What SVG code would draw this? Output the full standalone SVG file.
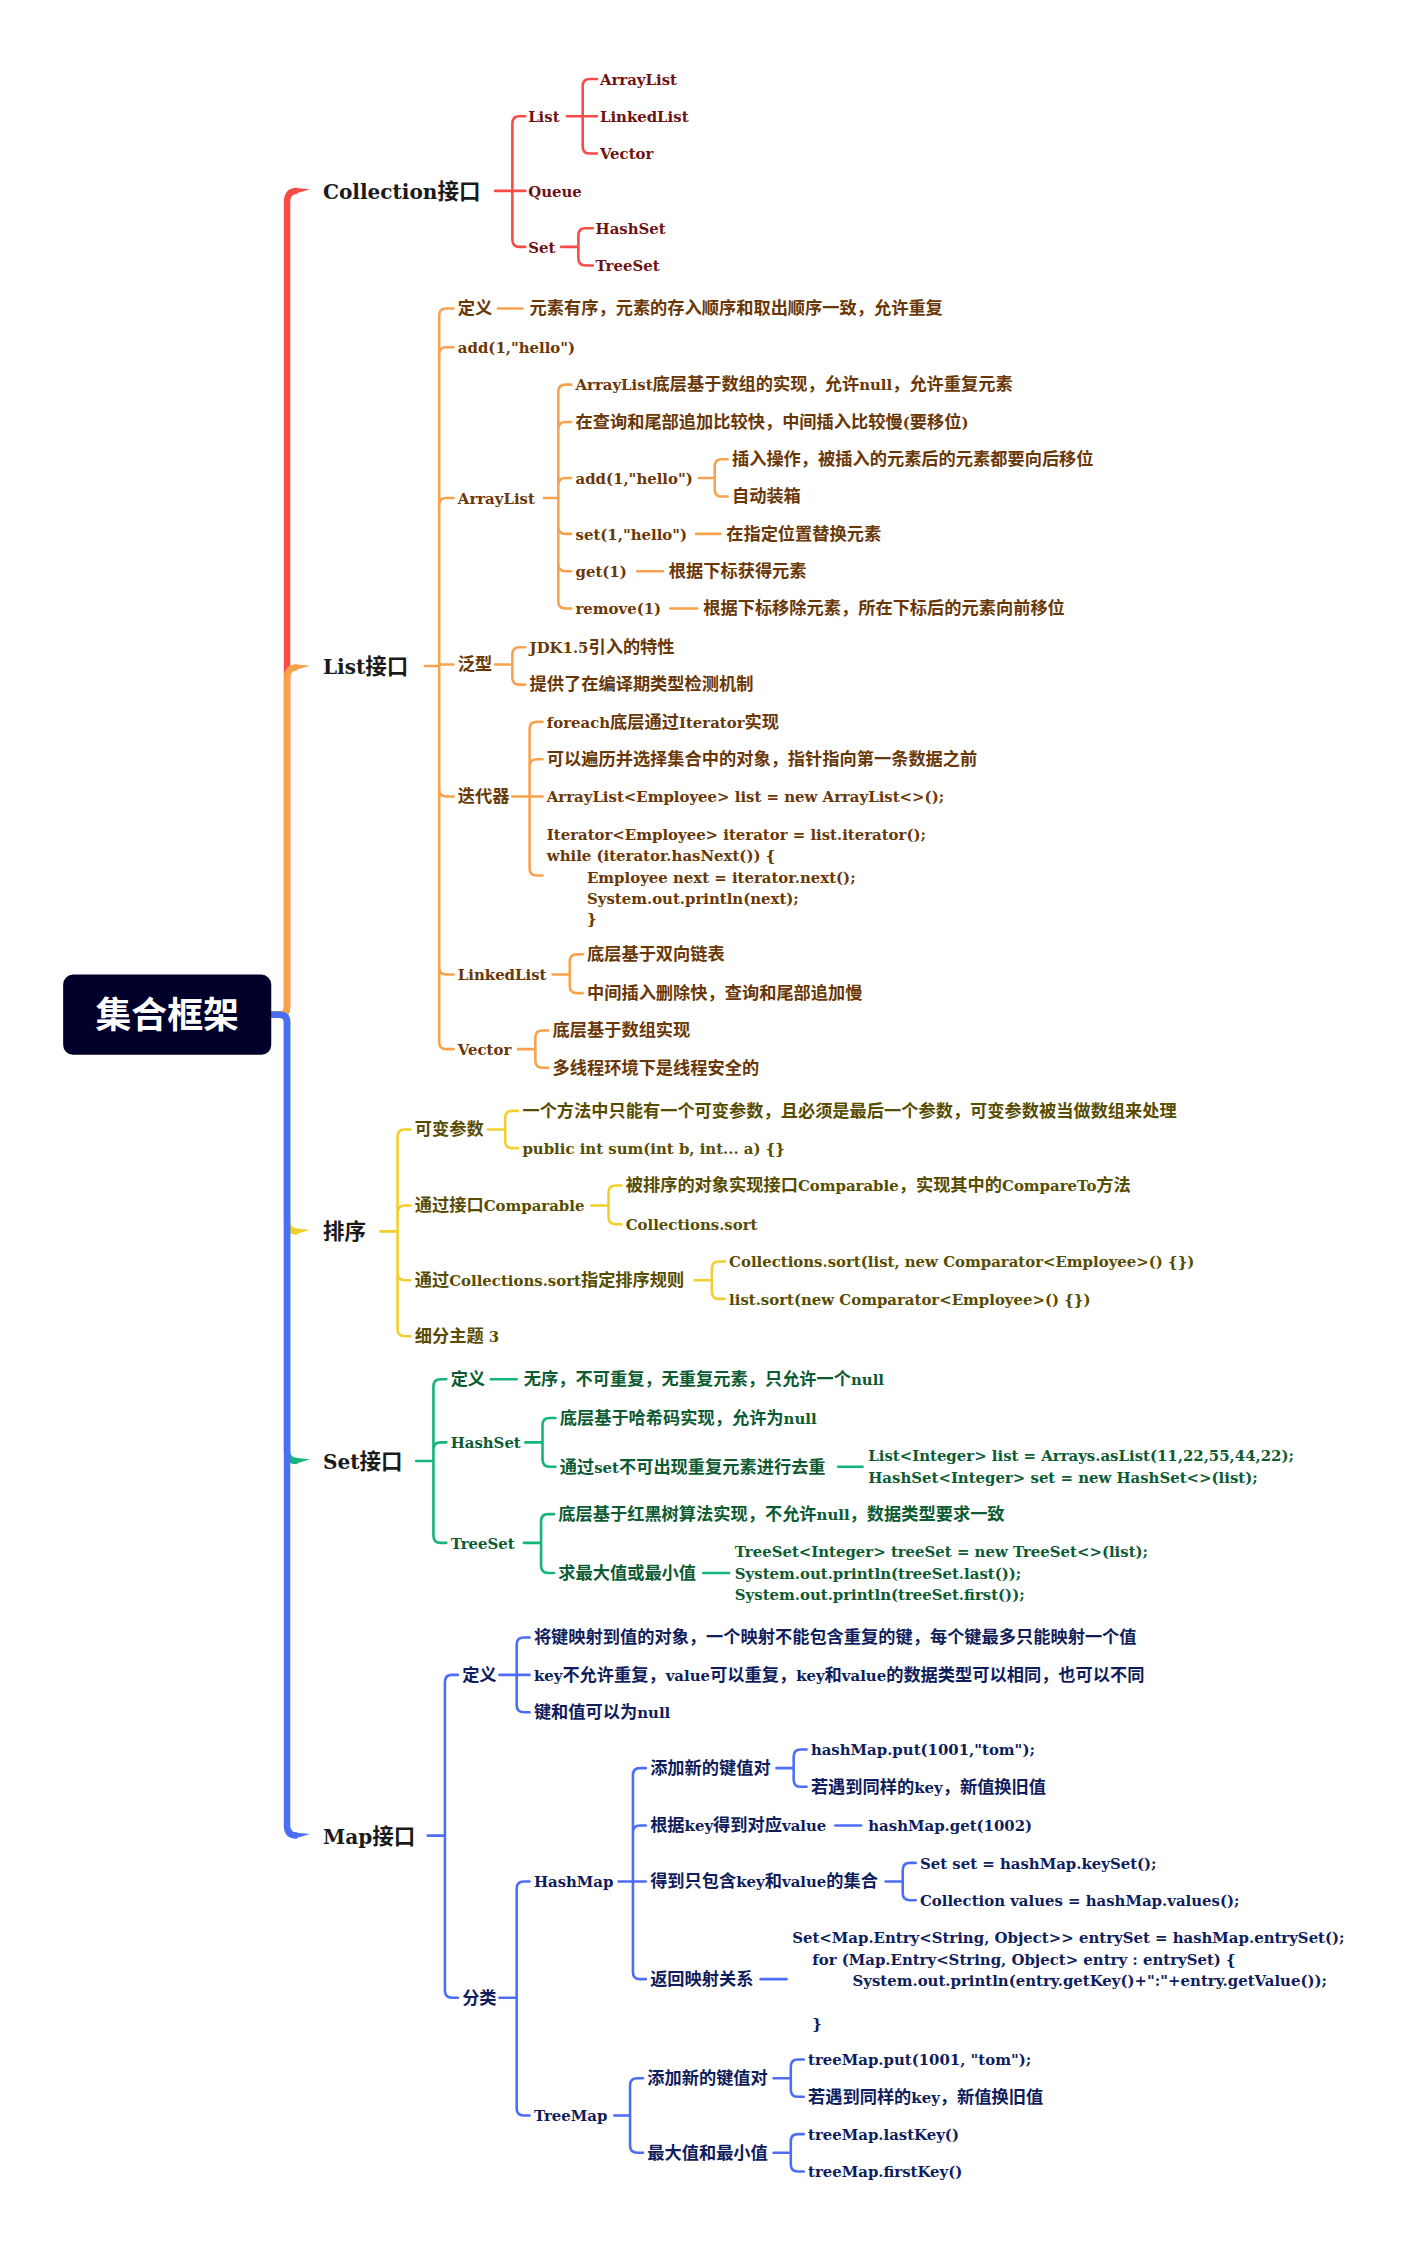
<svg xmlns="http://www.w3.org/2000/svg" width="1422" height="2251" viewBox="0 0 1422 2251">
<style>
text { font-family: "DejaVu Serif", "Noto Sans CJK SC", serif; font-weight: bold; font-size: 10.4px; }
.k { font-family: "Noto Sans CJK SC", sans-serif; font-size: 12px; }
.h { font-size: 14px; fill: #1a1a1a; }
.h .k { font-size: 15px; }
.cr { fill: #6e1212; } .co { fill: #6a3707; } .cy { fill: #574c00; } .cg { fill: #0c5b32; } .cb { fill: #0f1d5c; }
.s { fill: none; stroke-width: 1.8; stroke-linecap: round; stroke-linejoin: round; }
.m { fill: none; stroke-width: 4.5; stroke-linejoin: round; }
.lr { stroke: #f64b47; } .lo { stroke: #f8a24e; } .ly { stroke: #f2cf2c; } .lg { stroke: #14b57a; } .lb { stroke: #4c6ef6; }
.fr { fill: #f64b47; } .fo { fill: #f8a24e; } .fy { fill: #f2cf2c; } .fg { fill: #14b57a; } .fb { fill: #4c6ef6; }
</style>
<rect width="1422" height="2251" fill="#ffffff"/>
<g transform="scale(1.4352)">
<g id="connectors">
 <g id="conn-collection">
  <path class="m lr" d="M189 707 H195 Q200 707 200 702 V141 Q200 133 207 133"/>
  <polygon class="fr" points="205,130.75 216,131.8 205,135.25"/>
  <path class="s lr" d="M345 133 H357 M357 133 V86 Q357 81 362 81 H366 M357 133 H366 M357 133 V167 Q357 172 362 172 H366"/>
  <path class="s lr" d="M395 81 H406 M406 81 V60 Q406 55 411 55 H416 M406 81 H416 M406 81 V102 Q406 107 411 107 H416"/>
  <path class="s lr" d="M391 172 H403 M403 172 V164 Q403 159 408 159 H413 M403 172 V180 Q403 185 408 185 H413"/>
 </g>
 <g id="conn-list">
  <path class="m lo" d="M189 707 H195 Q200 707 200 702 V473 Q200 465 207 465"/>
  <polygon class="fo" points="205,462.75 216,463.8 205,467.25"/>
  <path class="s lo" d="M296 464 H306 M306 464 V220 Q306 215 311 215 H316 M306 464 V247 Q306 242 311 242 H316 M306 464 V352 Q306 347 311 347 H316 M306 463 H316 M306 464 V550 Q306 555 311 555 H316 M306 464 V674 Q306 679 311 679 H316 M306 464 V726 Q306 731 311 731 H316"/>
  <path class="s lo" d="M347 215 H364"/>
  <path class="s lo" d="M379 347 H389 M389 347 V273 Q389 268 394 268 H398 M389 347 V299 Q389 294 394 294 H398 M389 347 V338 Q389 333 394 333 H398 M389 347 V367 Q389 372 394 372 H398 M389 347 V393 Q389 398 394 398 H398 M389 347 V419 Q389 424 394 424 H398"/>
  <path class="s lo" d="M487 333 H498 M498 333 V325 Q498 320 503 320 H507 M498 333 V341 Q498 346 503 346 H507"/>
  <path class="s lo" d="M485 372 H502 M444 398 H462 M467 424 H486"/>
  <path class="s lo" d="M345 463 H357 M357 463 V456 Q357 451 362 451 H366 M357 463 V472 Q357 477 362 477 H366"/>
  <path class="s lo" d="M357 555 H369 M369 555 V508 Q369 503 374 503 H378 M369 555 V534 Q369 529 374 529 H378 M369 555 H378 M369 555 V605 Q369 610 374 610 H378"/>
  <path class="s lo" d="M385 679 H397 M397 679 V670 Q397 665 402 665 H406 M397 679 V687 Q397 692 402 692 H406"/>
  <path class="s lo" d="M361 731 H373 M373 731 V723 Q373 718 378 718 H382 M373 731 V739 Q373 744 378 744 H382"/>
 </g>
 <g id="conn-sort">
  <path class="m ly" d="M189 707 H195 Q200 707 200 712 V851 Q200 858 207 858"/>
  <polygon class="fy" points="205,855.75 216,856.8 205,860.25"/>
  <path class="s ly" d="M265 858 H277 M277 858 V792 Q277 787 282 787 H286 M277 858 V845 Q277 840 282 840 H286 M277 858 V887 Q277 892 282 892 H286 M277 858 V926 Q277 931 282 931 H286"/>
  <path class="s ly" d="M340 787 H352 M352 787 V779 Q352 774 357 774 H361 M352 787 V795 Q352 800 357 800 H361"/>
  <path class="s ly" d="M412 840 H424 M424 840 V831 Q424 826 429 826 H433 M424 840 V848 Q424 853 429 853 H433"/>
  <path class="s ly" d="M484 892 H496 M496 892 V884 Q496 879 501 879 H505 M496 892 V900 Q496 905 501 905 H505"/>
 </g>
 <g id="conn-set">
  <path class="m lg" d="M189 707 H195 Q200 707 200 712 V1011 Q200 1018 207 1018"/>
  <polygon class="fg" points="205,1015.75 216,1016.8 205,1020.25"/>
  <path class="s lg" d="M290 1018 H302 M302 1018 V966 Q302 961 307 961 H311 M302 1018 V1010 Q302 1005 307 1005 H311 M302 1018 V1070 Q302 1075 307 1075 H311"/>
  <path class="s lg" d="M342 961 H360"/>
  <path class="s lg" d="M366 1005 H378 M378 1005 V993 Q378 988 383 988 H387 M378 1005 V1017 Q378 1022 383 1022 H387"/>
  <path class="s lg" d="M584 1022 H601"/>
  <path class="s lg" d="M365 1075 H377 M377 1075 V1060 Q377 1055 382 1055 H386 M377 1075 V1091 Q377 1096 382 1096 H386"/>
  <path class="s lg" d="M490 1096 H508"/>
 </g>
 <g id="conn-map">
  <path class="m lb" d="M189 707 H195 Q200 707 200 712 V1272 Q200 1279 207 1279"/>
  <polygon class="fb" points="205,1276.75 216,1277.8 205,1281.25"/>
  <path class="s lb" d="M298 1279 H310 M310 1279 V1172 Q310 1167 315 1167 H319 M310 1279 V1387 Q310 1392 315 1392 H319"/>
  <path class="s lb" d="M348 1167 H360 M360 1167 V1146 Q360 1141 365 1141 H369 M360 1167 H369 M360 1167 V1188 Q360 1193 365 1193 H369"/>
  <path class="s lb" d="M348 1392 H360 M360 1392 V1316 Q360 1311 365 1311 H369 M360 1392 V1469 Q360 1474 365 1474 H369"/>
  <path class="s lb" d="M431 1311 H441 M441 1311 V1237 Q441 1232 446 1232 H450 M441 1311 V1277 Q441 1272 446 1272 H450 M441 1311 H450 M441 1311 V1374 Q441 1379 446 1379 H450"/>
  <path class="s lb" d="M541 1232 H553 M553 1232 V1224 Q553 1219 558 1219 H562 M553 1232 V1240 Q553 1245 558 1245 H562"/>
  <path class="s lb" d="M582 1272 H600"/>
  <path class="s lb" d="M617 1311 H629 M629 1311 V1303 Q629 1298 634 1298 H638 M629 1311 V1319 Q629 1324 634 1324 H638"/>
  <path class="s lb" d="M530 1379 H548"/>
  <path class="s lb" d="M428 1474 H439 M439 1474 V1453 Q439 1448 444 1448 H448 M439 1474 V1495 Q439 1500 444 1500 H448"/>
  <path class="s lb" d="M539 1448 H551 M551 1448 V1440 Q551 1435 556 1435 H560 M551 1448 V1456 Q551 1461 556 1461 H560"/>
  <path class="s lb" d="M539 1500 H551 M551 1500 V1492 Q551 1487 556 1487 H560 M551 1500 V1508 Q551 1513 556 1513 H560"/>
 </g>
</g>

<g id="root">
 <rect x="44" y="679" width="145" height="56" rx="7" fill="#00002b"/>
 <text x="116.5" y="716" text-anchor="middle" fill="#ffffff" style="font-family:'Noto Sans CJK SC',sans-serif;font-size:25px;font-weight:bold">集合框架</text>
</g>

<g id="collection" class="cr">
 <g id="n-collection"><text class="h" x="225" y="138.5">Collection<tspan class="k">接口</tspan></text></g>
 <g id="n-c-list"><text x="368" y="85">List</text></g>
 <g id="n-c-queue"><text x="368" y="137">Queue</text></g>
 <g id="n-c-set"><text x="368" y="176">Set</text></g>
 <g id="n-c-arraylist"><text x="418" y="59">ArrayList</text></g>
 <g id="n-c-linkedlist"><text x="418" y="85">LinkedList</text></g>
 <g id="n-c-vector"><text x="418" y="111">Vector</text></g>
 <g id="n-c-hashset"><text x="415" y="163">HashSet</text></g>
 <g id="n-c-treeset"><text x="415" y="189">TreeSet</text></g>
</g>

<g id="list" class="co">
 <g id="n-list"><text class="h" x="225" y="469.5">List<tspan class="k">接口</tspan></text></g>
 <g id="n-l-def"><text x="319" y="219"><tspan class="k">定义</tspan></text></g>
 <g id="n-l-def-1"><text x="369" y="219"><tspan class="k">元素有序，元素的存入顺序和取出顺序一致，允许重复</tspan></text></g>
 <g id="n-l-add"><text x="319" y="246">add(1,"hello")</text></g>
 <g id="n-l-arraylist"><text x="319" y="351">ArrayList</text></g>
 <g id="n-l-al-1"><text x="401" y="272">ArrayList<tspan class="k">底层基于数组的实现，允许</tspan>null<tspan class="k">，允许重复元素</tspan></text></g>
 <g id="n-l-al-2"><text x="401" y="298"><tspan class="k">在查询和尾部追加比较快，中间插入比较慢</tspan>(<tspan class="k">要移位</tspan>)</text></g>
 <g id="n-l-al-add"><text x="401" y="337">add(1,"hello")</text></g>
 <g id="n-l-al-add-1"><text x="510" y="324"><tspan class="k">插入操作，被插入的元素后的元素都要向后移位</tspan></text></g>
 <g id="n-l-al-add-2"><text x="510" y="350"><tspan class="k">自动装箱</tspan></text></g>
 <g id="n-l-al-set"><text x="401" y="376">set(1,"hello")</text></g>
 <g id="n-l-al-set-1"><text x="506" y="376"><tspan class="k">在指定位置替换元素</tspan></text></g>
 <g id="n-l-al-get"><text x="401" y="402">get(1)</text></g>
 <g id="n-l-al-get-1"><text x="466" y="402"><tspan class="k">根据下标获得元素</tspan></text></g>
 <g id="n-l-al-remove"><text x="401" y="428">remove(1)</text></g>
 <g id="n-l-al-remove-1"><text x="490" y="428"><tspan class="k">根据下标移除元素，所在下标后的元素向前移位</tspan></text></g>
 <g id="n-l-generic"><text x="319" y="467"><tspan class="k">泛型</tspan></text></g>
 <g id="n-l-generic-1"><text x="369" y="455">JDK1.5<tspan class="k">引入的特性</tspan></text></g>
 <g id="n-l-generic-2"><text x="369" y="481"><tspan class="k">提供了在编译期类型检测机制</tspan></text></g>
 <g id="n-l-iter"><text x="319" y="559"><tspan class="k">迭代器</tspan></text></g>
 <g id="n-l-iter-1"><text x="381" y="507">foreach<tspan class="k">底层通过</tspan>Iterator<tspan class="k">实现</tspan></text></g>
 <g id="n-l-iter-2"><text x="381" y="533"><tspan class="k">可以遍历并选择集合中的对象，指针指向第一条数据之前</tspan></text></g>
 <g id="n-l-iter-3"><text x="381" y="559">ArrayList&lt;Employee&gt; list = new ArrayList&lt;&gt;();</text></g>
 <g id="n-l-iter-4">
  <text x="381" y="585">Iterator&lt;Employee&gt; iterator = list.iterator();</text>
  <text x="381" y="600">while (iterator.hasNext()) {</text>
  <text x="409" y="615">Employee next = iterator.next();</text>
  <text x="409" y="630">System.out.println(next);</text>
  <text x="409" y="644">}</text>
 </g>
 <g id="n-l-linked"><text x="319" y="683">LinkedList</text></g>
 <g id="n-l-linked-1"><text x="409" y="669"><tspan class="k">底层基于双向链表</tspan></text></g>
 <g id="n-l-linked-2"><text x="409" y="696"><tspan class="k">中间插入删除快，查询和尾部追加慢</tspan></text></g>
 <g id="n-l-vector"><text x="319" y="735">Vector</text></g>
 <g id="n-l-vector-1"><text x="385" y="722"><tspan class="k">底层基于数组实现</tspan></text></g>
 <g id="n-l-vector-2"><text x="385" y="748"><tspan class="k">多线程环境下是线程安全的</tspan></text></g>
</g>

<g id="sort" class="cy">
 <g id="n-sort"><text class="h" x="225" y="863.5"><tspan class="k">排序</tspan></text></g>
 <g id="n-s-var"><text x="289" y="791"><tspan class="k">可变参数</tspan></text></g>
 <g id="n-s-var-1"><text x="364" y="778"><tspan class="k">一个方法中只能有一个可变参数，且必须是最后一个参数，可变参数被当做数组来处理</tspan></text></g>
 <g id="n-s-var-2"><text x="364" y="804">public int sum(int b, int... a) {}</text></g>
 <g id="n-s-comp"><text x="289" y="844"><tspan class="k">通过接口</tspan>Comparable</text></g>
 <g id="n-s-comp-1"><text x="436" y="830"><tspan class="k">被排序的对象实现接口</tspan>Comparable<tspan class="k">，实现其中的</tspan>CompareTo<tspan class="k">方法</tspan></text></g>
 <g id="n-s-comp-2"><text x="436" y="857">Collections.sort</text></g>
 <g id="n-s-rule"><text x="289" y="896"><tspan class="k">通过</tspan>Collections.sort<tspan class="k">指定排序规则</tspan></text></g>
 <g id="n-s-rule-1"><text x="508" y="883">Collections.sort(list, new Comparator&lt;Employee&gt;() {})</text></g>
 <g id="n-s-rule-2"><text x="508" y="909">list.sort(new Comparator&lt;Employee&gt;() {})</text></g>
 <g id="n-s-sub3"><text x="289" y="935"><tspan class="k">细分主题</tspan> 3</text></g>
</g>

<g id="set" class="cg">
 <g id="n-set"><text class="h" x="225" y="1023.5">Set<tspan class="k">接口</tspan></text></g>
 <g id="n-t-def"><text x="314" y="965"><tspan class="k">定义</tspan></text></g>
 <g id="n-t-def-1"><text x="365" y="965"><tspan class="k">无序，不可重复，无重复元素，只允许一个</tspan>null</text></g>
 <g id="n-t-hashset"><text x="314" y="1009">HashSet</text></g>
 <g id="n-t-hs-1"><text x="390" y="992"><tspan class="k">底层基于哈希码实现，允许为</tspan>null</text></g>
 <g id="n-t-hs-2"><text x="390" y="1026"><tspan class="k">通过</tspan>set<tspan class="k">不可出现重复元素进行去重</tspan></text></g>
 <g id="n-t-hs-code">
  <text x="605" y="1018">List&lt;Integer&gt; list = Arrays.asList(11,22,55,44,22);</text>
  <text x="605" y="1033">HashSet&lt;Integer&gt; set = new HashSet&lt;&gt;(list);</text>
 </g>
 <g id="n-t-treeset"><text x="314" y="1079">TreeSet</text></g>
 <g id="n-t-ts-1"><text x="389" y="1059"><tspan class="k">底层基于红黑树算法实现，不允许</tspan>null<tspan class="k">，数据类型要求一致</tspan></text></g>
 <g id="n-t-ts-2"><text x="389" y="1100"><tspan class="k">求最大值或最小值</tspan></text></g>
 <g id="n-t-ts-code">
  <text x="512" y="1085">TreeSet&lt;Integer&gt; treeSet = new TreeSet&lt;&gt;(list);</text>
  <text x="512" y="1100">System.out.println(treeSet.last());</text>
  <text x="512" y="1115">System.out.println(treeSet.first());</text>
 </g>
</g>

<g id="map" class="cb">
 <g id="n-map"><text class="h" x="225" y="1284.5">Map<tspan class="k">接口</tspan></text></g>
 <g id="n-m-def"><text x="322" y="1171"><tspan class="k">定义</tspan></text></g>
 <g id="n-m-def-1"><text x="372" y="1145"><tspan class="k">将键映射到值的对象，一个映射不能包含重复的键，每个键最多只能映射一个值</tspan></text></g>
 <g id="n-m-def-2"><text x="372" y="1171">key<tspan class="k">不允许重复，</tspan>value<tspan class="k">可以重复，</tspan>key<tspan class="k">和</tspan>value<tspan class="k">的数据类型可以相同，也可以不同</tspan></text></g>
 <g id="n-m-def-3"><text x="372" y="1197"><tspan class="k">键和值可以为</tspan>null</text></g>
 <g id="n-m-cat"><text x="322" y="1396"><tspan class="k">分类</tspan></text></g>
 <g id="n-m-hashmap"><text x="372" y="1315">HashMap</text></g>
 <g id="n-m-hm-add"><text x="453" y="1236"><tspan class="k">添加新的键值对</tspan></text></g>
 <g id="n-m-hm-add-1"><text x="565" y="1223">hashMap.put(1001,"tom");</text></g>
 <g id="n-m-hm-add-2"><text x="565" y="1249"><tspan class="k">若遇到同样的</tspan>key<tspan class="k">，新值换旧值</tspan></text></g>
 <g id="n-m-hm-get"><text x="453" y="1276"><tspan class="k">根据</tspan>key<tspan class="k">得到对应</tspan>value</text></g>
 <g id="n-m-hm-get-1"><text x="605" y="1276">hashMap.get(1002)</text></g>
 <g id="n-m-hm-set"><text x="453" y="1315"><tspan class="k">得到只包含</tspan>key<tspan class="k">和</tspan>value<tspan class="k">的集合</tspan></text></g>
 <g id="n-m-hm-set-1"><text x="641" y="1302">Set set = hashMap.keySet();</text></g>
 <g id="n-m-hm-set-2"><text x="641" y="1328">Collection values = hashMap.values();</text></g>
 <g id="n-m-hm-entry"><text x="453" y="1383"><tspan class="k">返回映射关系</tspan></text></g>
 <g id="n-m-hm-entry-code">
  <text x="552" y="1354">Set&lt;Map.Entry&lt;String, Object&gt;&gt; entrySet = hashMap.entrySet();</text>
  <text x="566" y="1369">for (Map.Entry&lt;String, Object&gt; entry : entrySet) {</text>
  <text x="594" y="1384">System.out.println(entry.getKey()+":"+entry.getValue());</text>
  <text x="566" y="1414">}</text>
 </g>
 <g id="n-m-treemap"><text x="372" y="1478">TreeMap</text></g>
 <g id="n-m-tm-add"><text x="451" y="1452"><tspan class="k">添加新的键值对</tspan></text></g>
 <g id="n-m-tm-add-1"><text x="563" y="1439">treeMap.put(1001, "tom");</text></g>
 <g id="n-m-tm-add-2"><text x="563" y="1465"><tspan class="k">若遇到同样的</tspan>key<tspan class="k">，新值换旧值</tspan></text></g>
 <g id="n-m-tm-max"><text x="451" y="1504"><tspan class="k">最大值和最小值</tspan></text></g>
 <g id="n-m-tm-max-1"><text x="563" y="1491">treeMap.lastKey()</text></g>
 <g id="n-m-tm-max-2"><text x="563" y="1517">treeMap.firstKey()</text></g>
</g>
</g>
</svg>
